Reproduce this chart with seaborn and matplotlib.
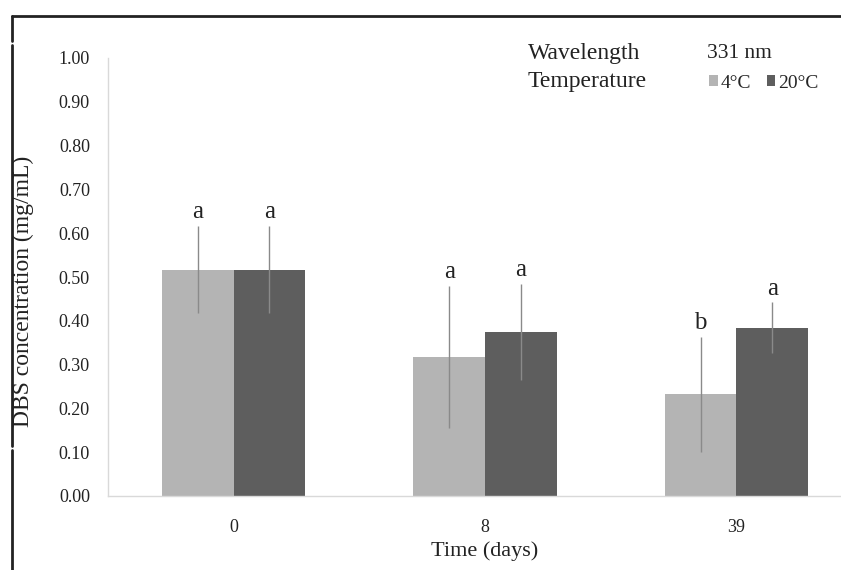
import numpy as np
import matplotlib
matplotlib.use("Agg")
import matplotlib.pyplot as plt
from matplotlib.lines import Line2D
import pandas as pd
import seaborn as sns

# values
days = ["0", "8", "39"]
temps = ["4°C", "20°C"]
conc_4 = [0.517, 0.318, 0.232]
conc_20 = [0.517, 0.374, 0.384]
err_4 = [0.100, 0.162, 0.131]
err_20 = [0.100, 0.110, 0.058]
letters_4 = ["a", "a", "b"]
letters_20 = ["a", "a", "a"]

data = pd.DataFrame({
    "day": days * 2,
    "temp": [temps[0]] * 3 + [temps[1]] * 3,
    "conc": conc_4 + conc_20,
})

sns.set_style("white")
plt.rcParams["font.family"] = ["Liberation Serif", "DejaVu Serif"]

fig = plt.figure(figsize=(8.41, 5.70), dpi=100)
ax = fig.add_axes([108 / 841, 1 - 496 / 570, 754 / 841, 438 / 570])

sns.barplot(data=data, x="day", y="conc", hue="temp", order=days, hue_order=temps,
            palette=["#b4b4b4", "#5e5e5e"], width=0.57, saturation=1, errorbar=None,
            linewidth=0, ax=ax)

# error bars and significance letters
errs = [err_4, err_20]
lets = [letters_4, letters_20]
bar_groups = list(ax.containers)
for k, cont in enumerate(bar_groups):
    for i, bar in enumerate(cont.patches):
        xc = bar.get_x() + bar.get_width() / 2
        h = bar.get_height()
        ax.errorbar(xc, h, yerr=errs[k][i], fmt="none", ecolor="#8a8a8a",
                    elinewidth=1, capsize=0, zorder=3)
        ax.text(xc, h + errs[k][i] + 0.006, lets[k][i], ha="center", va="bottom",
                fontsize=18, color="#222222")

ax.set_ylim(0, 1.0)
ax.set_xlim(-0.5, 2.5)
ax.set_yticks(np.arange(0, 1.01, 0.1))
ax.set_yticklabels([f"{v:.2f}" for v in np.arange(0, 1.01, 0.1)])
ax.tick_params(axis="both", length=0, labelsize=13, colors="#222222")
ax.tick_params(axis="y", pad=13)
ax.tick_params(axis="x", pad=16.5)
ax.set_xlabel("Time (days)", fontsize=16, color="#222222", labelpad=4)
ax.set_ylabel("")
fig.text(23 / 841, 1 - 291 / 570, "DBS concentration (mg/mL)", rotation=90,
         ha="center", va="center", fontsize=17, color="#222222")

for s in ["top", "right"]:
    ax.spines[s].set_visible(False)
for s in ["left", "bottom"]:
    ax.spines[s].set_color("#d9d9d9")
    ax.spines[s].set_linewidth(1)

# legend block
fig.text(528 / 841, 1 - 53 / 570, "Wavelength", fontsize=17, va="center", color="#222222")
fig.text(707 / 841, 1 - 53 / 570, "331 nm", fontsize=15.5, va="center", color="#222222")
fig.text(528 / 841, 1 - 82 / 570, "Temperature", fontsize=17, va="center", color="#222222")
sns.move_legend(ax, "center left", bbox_to_anchor=(709 / 841, 1 - 83 / 570),
                bbox_transform=fig.transFigure, ncol=2, frameon=False, title=None,
                fontsize=14, handlelength=0.45, handleheight=0.45, handletextpad=0.15,
                columnspacing=0.8, borderpad=0, borderaxespad=0)

# page frame lines
fig.add_artist(Line2D([12 / 841, 1], [1 - 16 / 570] * 2, color="#222222", lw=2,
                      transform=fig.transFigure))
fig.add_artist(Line2D([12 / 841] * 2, [1 - 16 / 570, 1 - 41 / 570], color="#222222",
                      lw=2, transform=fig.transFigure))
fig.add_artist(Line2D([12 / 841] * 2, [1 - 45 / 570, 1 - 446 / 570], color="#222222",
                      lw=2, transform=fig.transFigure))
fig.add_artist(Line2D([12 / 841] * 2, [1 - 450 / 570, 0], color="#222222",
                      lw=2, transform=fig.transFigure))

fig.savefig("out.png", dpi=100)
